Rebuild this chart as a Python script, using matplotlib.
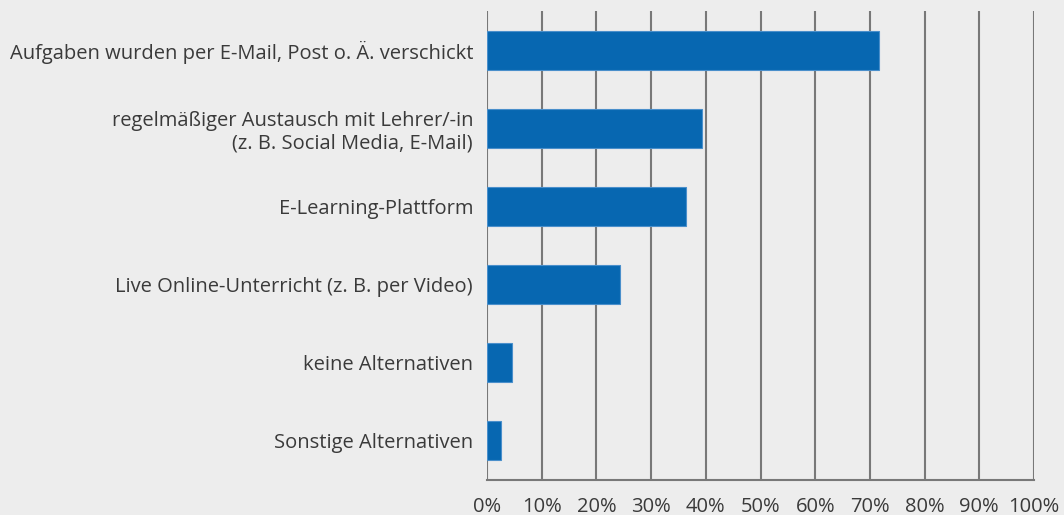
import matplotlib
matplotlib.use("Agg")
import matplotlib.pyplot as plt
from matplotlib.ticker import FuncFormatter, MultipleLocator

categories = [
    "Aufgaben wurden per E-Mail, Post o. Ä. verschickt",
    "regelmäßiger Austausch mit Lehrer/-in\n(z. B. Social Media, E-Mail)",
    "E-Learning-Plattform",
    "Live Online-Unterricht (z. B. per Video)",
    "keine Alternativen",
    "Sonstige Alternativen",
]
values = [71.6, 39.3, 36.3, 24.4, 4.6, 2.5]

bg = "#EDEDED"
bar_color = "#0767B1"
grid_color = "#787878"
text_color = "#3A3A3A"

plt.rcParams['font.family'] = ['Open Sans', 'DejaVu Sans']

fig = plt.figure(figsize=(10.64, 5.15), dpi=100, facecolor=bg)
ax = fig.add_axes([487/1064, 1 - 480/515, (1034-487)/1064, (480-11)/515])
ax.set_facecolor(bg)

ypos = list(range(len(categories)))
ax.barh(ypos, values, height=0.5, color=bar_color, edgecolor="#4A8FCB", linewidth=0.8, zorder=3)

ax.set_xlim(0, 100)
ax.set_ylim(len(categories) - 0.5, -0.5)
ax.xaxis.set_major_locator(MultipleLocator(10))
ax.xaxis.set_major_formatter(FuncFormatter(lambda v, p: f"{int(round(v))}%"))
ax.grid(axis="x", color=grid_color, linewidth=1.5, zorder=1)
ax.set_yticks(ypos)
ax.set_yticklabels(categories, ha="right", multialignment="right", linespacing=1.15)

for s in ["top", "right", "left"]:
    ax.spines[s].set_visible(False)
ax.spines["bottom"].set_color(grid_color)
ax.spines["bottom"].set_linewidth(1.5)
ax.tick_params(axis="both", length=0, colors=text_color, labelsize=14.5)
ax.tick_params(axis="y", pad=10)
ax.tick_params(axis="x", pad=12)
for lab in ax.get_xticklabels() + ax.get_yticklabels():
    lab.set_color(text_color)

fig.savefig("out.png", dpi=100, facecolor=bg)
